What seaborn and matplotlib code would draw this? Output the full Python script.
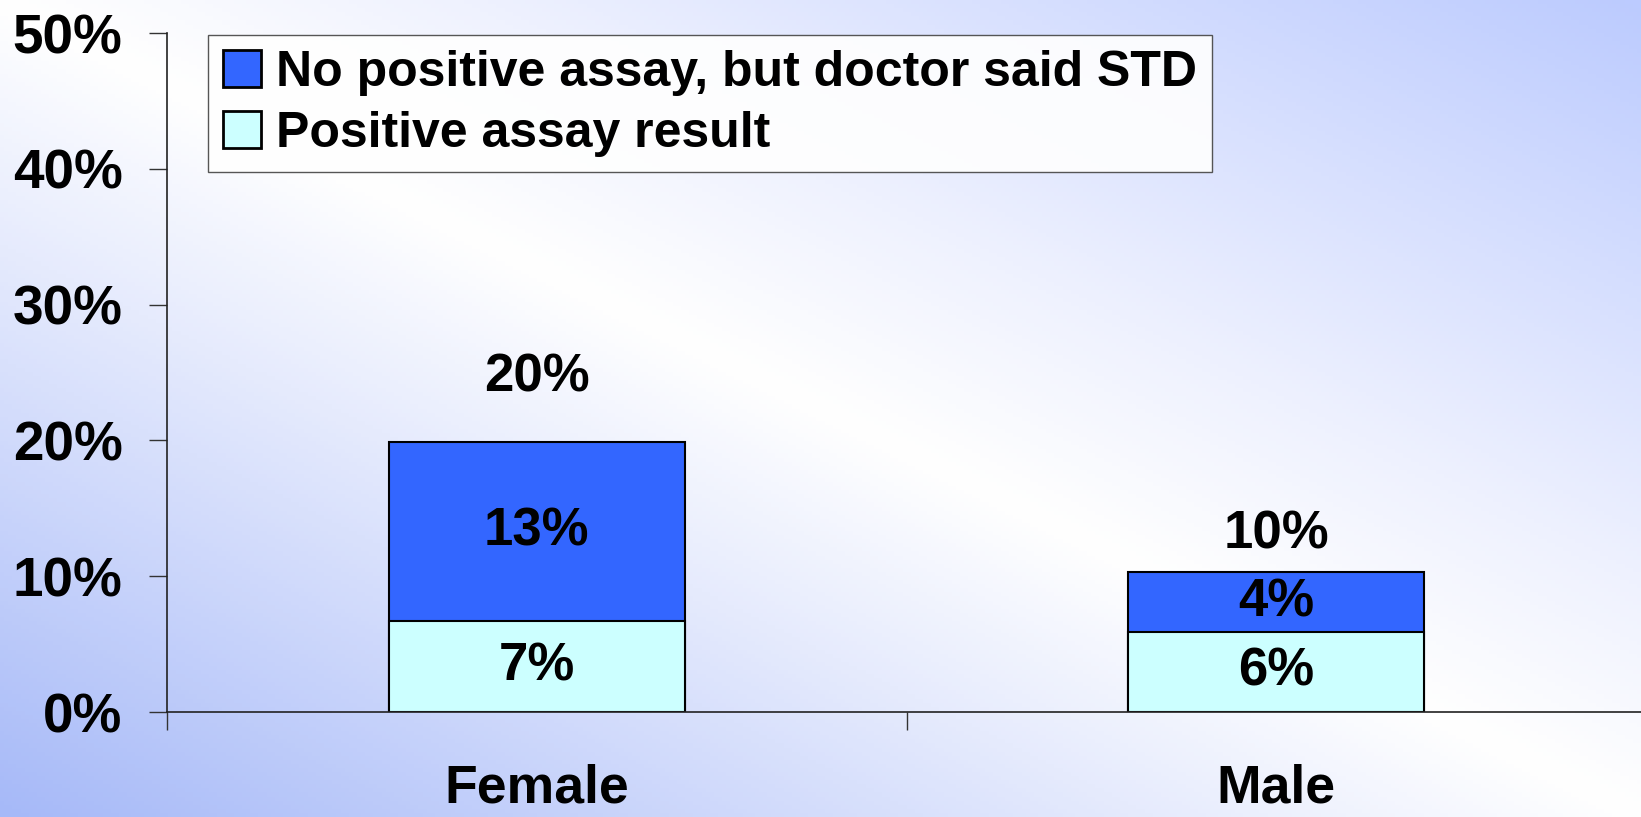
import numpy as np
import pandas as pd
import matplotlib
matplotlib.use("Agg")
import matplotlib.pyplot as plt
from matplotlib.colors import LinearSegmentedColormap
from matplotlib.patches import Patch
import seaborn as sns

# Chart data (percent)
categories = ["Female", "Male"]
positive_assay = [6.7, 5.9]
doctor_said = [13.2, 4.4]
positive_labels = ["7%", "6%"]
doctor_labels = ["13%", "4%"]
total_labels = ["20%", "10%"]
y_ticks = [0, 10, 20, 30, 40, 50]
series_names = ["No positive assay, but doctor said STD", "Positive assay result"]

BLUE = "#3366ff"
CYAN = "#ccffff"


def main():
    sns.set_theme(style="white")
    plt.rcParams["font.family"] = ["Liberation Sans", "DejaVu Sans"]
    plt.rcParams["font.weight"] = "bold"
    plt.rcParams["text.color"] = "black"
    plt.rcParams["xtick.color"] = "black"
    plt.rcParams["ytick.color"] = "black"

    df = pd.DataFrame({
        "Sex": categories,
        "Positive": positive_assay,
        "Doctor": doctor_said,
    })
    df["Total"] = df["Positive"] + df["Doctor"]

    fig = plt.figure(figsize=(16.41, 8.17), dpi=100)

    # diagonal gradient background: blue at bottom-left and top-right corners
    bg = fig.add_axes([0, 0, 1, 1], zorder=0)
    xx, yy = np.meshgrid(np.linspace(0, 1, 400), np.linspace(0, 1, 200))
    t = xx + yy - 1
    cmap = LinearSegmentedColormap.from_list(
        "bg", [(0, "#a6b9f8"), (0.35, "#e6ebfd"), (0.5, "#ffffff"),
               (0.65, "#eef1fe"), (1, "#bccbff")])
    bg.imshow(t, cmap=cmap, origin="lower", aspect="auto", extent=[0, 1, 0, 1],
              vmin=-1, vmax=1)
    bg.axis("off")

    ax = fig.add_axes([0.1018, 0.1285, 0.9013, 0.831], zorder=1)
    ax.set_facecolor("none")

    sns.barplot(data=df, x="Sex", y="Total", color=BLUE, saturation=1, width=0.4,
                edgecolor="black", linewidth=1.5, ax=ax)
    sns.barplot(data=df, x="Sex", y="Positive", color=CYAN, saturation=1, width=0.4,
                edgecolor="black", linewidth=1.5, ax=ax)

    # segment labels
    for i in range(len(categories)):
        p = df["Positive"][i]
        d = df["Doctor"][i]
        ax.text(i, p / 2, positive_labels[i], ha="center", va="center",
                fontsize=38, fontweight="bold")
        ax.text(i, p + d / 2, doctor_labels[i], ha="center", va="center",
                fontsize=38, fontweight="bold")

    label_offsets = [46, 27]
    for i in range(len(categories)):
        ax.annotate(total_labels[i], (i, df["Total"][i]), xytext=(0, label_offsets[i]),
                    textcoords="offset points", ha="center", va="center",
                    fontsize=38, fontweight="bold")

    ax.set_ylim(0, 50)
    ax.set_xlim(-0.5, 1.5)
    ax.set_yticks(y_ticks)
    ax.set_yticklabels([f"{v}%" for v in y_ticks], fontsize=39.5, fontweight="bold")
    ax.tick_params(axis="y", direction="out", length=13, width=1, color="#333333", pad=19,
                   left=True)

    # category boundaries as major ticks, names as minor ticks
    ax.set_xticks([-0.5, 0.5, 1.5])
    ax.set_xticklabels([])
    ax.set_xticks([0, 1], minor=True)
    ax.set_xticklabels(categories, minor=True, fontsize=38.5, fontweight="bold")
    ax.tick_params(axis="x", which="major", direction="out", length=13, width=1,
                   color="#333333", bottom=True)
    ax.tick_params(axis="x", which="minor", length=0, pad=37)

    ax.set_xlabel("")
    ax.set_ylabel("")
    for side in ["top", "right"]:
        ax.spines[side].set_visible(False)
    for side in ["left", "bottom"]:
        ax.spines[side].set_color("#222222")
        ax.spines[side].set_linewidth(1.2)

    handles = [Patch(facecolor=BLUE, edgecolor="black", linewidth=2),
               Patch(facecolor=CYAN, edgecolor="black", linewidth=2)]
    leg = fig.legend(handles, series_names, loc="upper left",
                     bbox_to_anchor=(208 / 1641, 1 - 35 / 817),
                     prop={"size": 36, "weight": "bold"}, frameon=True, fancybox=False,
                     handlelength=0.75, handleheight=0.75, handletextpad=0.3,
                     borderpad=0.3, labelspacing=0.3, borderaxespad=0)
    leg.get_frame().set_edgecolor("#444444")
    leg.get_frame().set_facecolor("white")
    leg.get_frame().set_alpha(0.9)
    leg.get_frame().set_linewidth(1)
    leg.set_zorder(5)

    fig.savefig("out.png", dpi=100)


if __name__ == "__main__":
    main()
